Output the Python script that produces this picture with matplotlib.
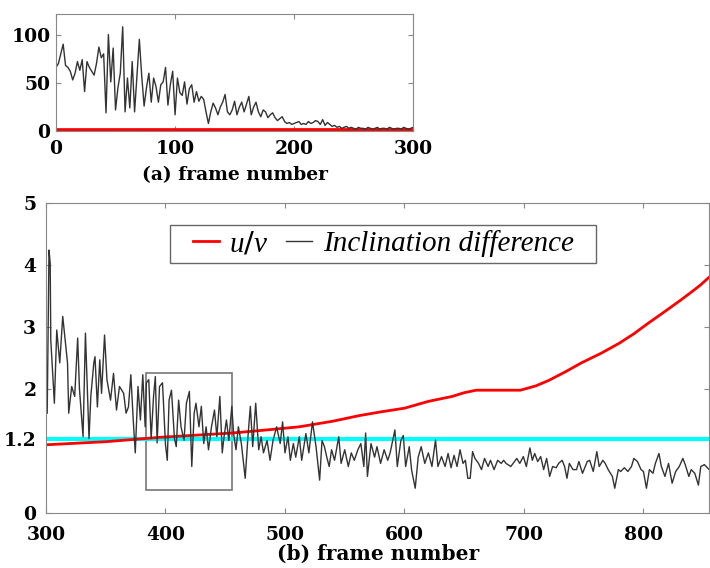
import numpy as np
import matplotlib.pyplot as plt
from matplotlib.patches import Rectangle

plt.rcParams['font.family'] = ['DejaVu Serif']
plt.rcParams['mathtext.fontset'] = 'custom'
plt.rcParams['mathtext.it'] = 'Liberation Serif:italic'

# (a) inclinacion, frames 0..300 (paso 2)
frames_a = np.arange(0, 301, 2)
incl_a = [66, 70, 80, 90, 68, 66, 62, 53, 60, 72, 63, 74, 41, 72, 66, 62, 58, 70, 87, 76,
          80, 19, 100, 51, 86, 22, 45, 60, 108, 20, 55, 24, 72, 20, 58, 95, 57, 26, 45, 60,
          30, 55, 46, 30, 48, 51, 66, 27, 48, 62, 17, 55, 40, 37, 51, 28, 44, 48, 30, 41,
          31, 36, 33, 20, 8, 20, 29, 24, 17, 25, 30, 38, 20, 17, 22, 31, 17, 25, 30, 20,
          28, 36, 17, 25, 30, 20, 15, 22, 20, 14, 17, 19, 14, 11, 13, 15, 10, 8, 9, 7,
          8, 9, 10, 7, 8, 7, 10, 8, 9, 11, 10, 7, 12, 6, 9, 7, 5, 6, 4, 5,
          3, 4, 5, 3, 4, 3, 2, 4, 3, 3, 2, 4, 3, 2, 3, 4, 2, 3, 3, 2,
          4, 3, 2, 3, 3, 2, 4, 3, 2, 3, 4]
uv_frames_a = [0, 300]
uv_a = [1.0, 1.05]

# (b) frames 300..855
frames_b = [301, 302.5, 303.5, 304, 307, 309, 311.5, 314, 316, 318, 319, 321.5, 324, 326.5, 328,
            331, 333, 336, 337.5, 340, 341, 343, 345, 346.5, 349, 351, 354, 356.5, 359, 361.5,
            365, 367, 369, 371, 373, 374.7, 377, 379, 381, 383, 384, 386, 388, 390, 391.5,
            393, 395, 397.5, 400, 401.5, 403, 405, 407.5, 409, 411, 413, 415.5, 417.5, 420, 422,
            424, 425.5, 428, 430, 432, 434, 436, 438.5, 441, 443, 445.5, 447.5, 449, 451, 453,
            455.5, 457, 459, 461, 463.5, 466.7, 469, 471, 473, 475.5, 478, 480, 482, 485, 487.5,
            490, 493, 496, 498, 500, 502.5, 504.5, 507, 509, 512, 514, 517.5, 520, 523, 526,
            529, 531, 533, 535, 537, 539, 541.5, 545, 547, 550, 553, 555.5, 558, 561, 563.5,
            566, 567.5, 569, 572, 575, 577, 580, 583, 586, 588, 592, 594, 597, 599, 601,
            604, 606, 609, 611.5, 614, 617, 620, 623, 626, 628, 631, 634, 636.5, 639, 641.5,
            644, 646.5, 649, 651, 653, 655, 657, 659, 662, 664.5, 667, 670, 672, 675, 678,
            681, 683, 685, 689, 694, 696.5, 699.5, 702, 705, 707, 709, 711.5, 714, 716.5, 719,
            721.5, 724, 727, 729, 732, 734, 736, 738, 741, 744, 746, 749, 753, 755, 758,
            761, 763, 766, 768, 770.5, 774, 776, 779, 781, 784, 787, 790, 792, 795, 798,
            800, 802.5, 805, 808, 810, 813, 815, 818, 821, 824, 827, 830, 833, 835, 838,
            840, 843, 846, 848, 851, 855]
incl_b = [1.61, 4.24, 4.03, 2.79, 1.77, 2.95, 2.42, 3.17, 2.79, 2.42, 1.61, 2.04, 1.88, 2.82, 2.0,
          1.23, 2.9, 1.2, 1.88, 2.42, 2.52, 1.71, 2.47, 1.93, 2.87, 2.15, 1.82, 2.25, 1.66, 2.04,
          1.93, 1.61, 1.71, 2.23, 1.5, 0.97, 2.04, 1.5, 2.23, 1.39, 2.1, 2.15, 1.2, 1.88, 2.2,
          1.13, 2.04, 2.1, 1.1, 0.85, 1.82, 1.98, 1.2, 1.07, 1.82, 1.39, 1.17, 1.77, 1.96, 0.75,
          1.61, 1.77, 1.39, 1.72, 1.12, 1.39, 1.02, 1.39, 1.66, 1.23, 1.88, 0.97, 1.23, 1.5, 1.17,
          1.72, 1.28, 1.02, 1.39, 1.12, 0.56, 1.23, 1.72, 1.07, 1.77, 1.02, 1.23, 0.97, 1.17, 0.85,
          1.17, 1.39, 1.12, 1.47, 0.97, 1.23, 0.85, 1.12, 0.9, 1.23, 0.85, 1.28, 0.97, 1.47, 1.07,
          0.53, 1.17, 1.07, 0.9, 0.75, 1.02, 0.85, 1.23, 0.8, 1.02, 0.75, 0.97, 0.85, 1.02, 1.12,
          0.75, 1.29, 0.59, 1.12, 0.9, 1.07, 0.8, 1.02, 0.85, 0.97, 1.34, 0.75, 1.17, 1.25, 0.75,
          1.07, 0.69, 0.4, 0.9, 1.07, 0.8, 0.97, 0.75, 1.18, 0.75, 0.91, 0.75, 0.96, 0.73, 0.93,
          0.75, 1.02, 0.8, 0.85, 0.56, 0.56, 0.99, 0.88, 0.8, 0.7, 0.88, 0.75, 0.85, 0.7, 0.85,
          0.8, 0.85, 0.8, 0.75, 0.88, 0.8, 0.91, 0.75, 1.05, 0.85, 0.96, 0.83, 0.91, 0.7, 0.88,
          0.59, 0.75, 0.73, 0.8, 0.85, 0.75, 0.56, 0.8, 0.7, 0.7, 0.83, 0.64, 0.83, 0.85, 0.67,
          0.99, 0.75, 0.85, 0.8, 0.7, 0.59, 0.4, 0.7, 0.67, 0.73, 0.67, 0.75, 0.88, 0.83, 0.7,
          0.67, 0.4, 0.7, 0.64, 0.8, 0.96, 0.75, 0.59, 0.8, 0.48, 0.67, 0.75, 0.88, 0.78, 0.59,
          0.7, 0.64, 0.45, 0.75, 0.78, 0.7]
uv_frames_b = [300, 350, 395, 430, 456, 485, 512, 540, 562, 580, 600, 620, 640, 650, 660, 697,
               710, 721, 735, 748, 765, 780, 792, 804, 818, 831, 840, 848, 856]
uv_b = [1.10, 1.15, 1.22, 1.26, 1.29, 1.34, 1.39, 1.48, 1.57, 1.63, 1.69, 1.80, 1.88, 1.94, 1.98, 1.98,
        2.05, 2.14, 2.28, 2.42, 2.58, 2.74, 2.89, 3.06, 3.25, 3.43, 3.56, 3.68, 3.82]
umbral = 1.2

fig = plt.figure(figsize=(7.1, 5.68), dpi=100)
spine_c = '#888888'

# grafica (a)
ax1 = fig.add_axes([0.0789, 0.769, 0.503, 0.206])
ax1.plot(uv_frames_a, uv_a, color='red', lw=3, solid_capstyle='butt')
ax1.plot(frames_a, incl_a, color='#333333', lw=1)
ax1.set_xlim(0, 300)
ax1.set_ylim(0, 121)
ax1.set_xticks([0, 100, 200, 300])
ax1.set_yticks([0, 50, 100])
ax1.set_xlabel('(a) frame number', labelpad=6, fontsize=13.5, fontweight='bold')
ax1.tick_params(axis='x', pad=6)
ax1.tick_params(axis='y', pad=4)

# grafica (b)
ax2 = fig.add_axes([0.0648, 0.0968, 0.934, 0.546])
ax2.axhline(umbral, color='#00ffff', lw=3)
ax2.plot(uv_frames_b, uv_b, color='red', lw=2, label='$u/v$')
ax2.plot(frames_b, incl_b, color='#333333', lw=1, label='Inclination difference')
ax2.add_patch(Rectangle((384, 0.37), 72, 1.89, fill=False, edgecolor='#777777', lw=1.2))
ax2.set_xlim(300, 855)
ax2.set_ylim(0, 5)
ax2.set_xticks([300, 400, 500, 600, 700, 800])
ax2.set_yticks([0, 1.2, 2, 3, 4, 5])
ax2.set_yticklabels(['0', '1.2', '2', '3', '4', '5'])
ax2.set_xlabel('(b) frame number', labelpad=0, fontsize=14.5, fontweight='bold')
ax2.tick_params(axis='x', pad=9)
ax2.tick_params(axis='y', pad=7)

# caja de la leyenda
ax2.add_patch(Rectangle((0.187, 0.806), 0.643, 0.123, transform=ax2.transAxes,
                        fill=False, edgecolor='#666666', lw=1.0, zorder=5))
ax2.legend(loc='center', bbox_to_anchor=(0.5085, 0.868), ncol=2, frameon=False,
           handlelength=0.9, handletextpad=0.35, columnspacing=0.6, borderpad=0.2,
           prop={'family': 'Liberation Serif', 'style': 'italic', 'size': 21})

for ax in (ax1, ax2):
    for s in ax.spines.values():
        s.set_color(spine_c)
    ax.tick_params(direction='in', top=True, right=True, color=spine_c, labelsize=13.5)
    for lab in ax.get_xticklabels() + ax.get_yticklabels():
        lab.set_fontweight('bold')

fig.savefig('out.png', dpi=100)
